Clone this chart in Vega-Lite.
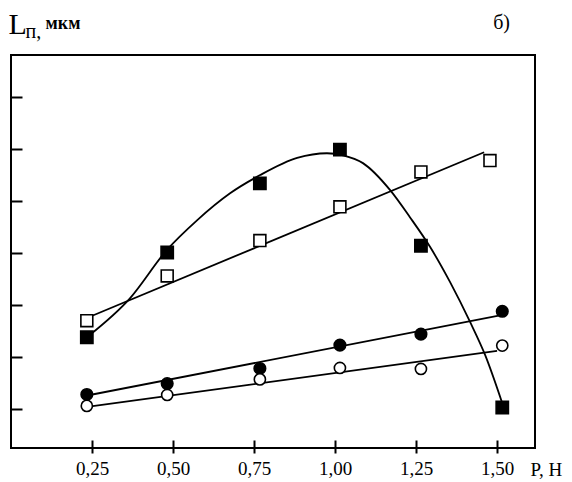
{
  "$schema": "https://vega.github.io/schema/vega-lite/v6.json",
  "width": 524,
  "height": 393,
  "autosize": {"type": "none"},
  "padding": {"left": 11, "top": 55, "right": 37, "bottom": 34},
  "background": "white",
  "title": {"text": "б)", "anchor": "end", "frame": "group", "font": "Liberation Serif", "fontSize": 20, "fontWeight": "normal", "color": "black", "dx": -25, "offset": 0, "dy": 40, "baseline": "alphabetic"},
  "config": {
    "view": {"stroke": "black", "strokeWidth": 2},
    "axis": {"labelFont": "Liberation Serif", "titleFont": "Liberation Serif", "grid": false, "domain": false, "tickColor": "black", "tickWidth": 2, "labelColor": "black", "titleColor": "black", "titleFontWeight": "normal"}
  },
  "data": {"values": [
    {"series": "fs", "kind": "pt", "P": 0.234, "L": 2.38},
    {"series": "fs", "kind": "pt", "P": 0.482, "L": 4.01},
    {"series": "fs", "kind": "pt", "P": 0.768, "L": 5.34},
    {"series": "fs", "kind": "pt", "P": 1.015, "L": 5.99},
    {"series": "fs", "kind": "pt", "P": 1.265, "L": 4.14},
    {"series": "fs", "kind": "pt", "P": 1.516, "L": 1.03},
    {"series": "os", "kind": "pt", "P": 0.234, "L": 2.70},
    {"series": "os", "kind": "pt", "P": 0.482, "L": 3.56},
    {"series": "os", "kind": "pt", "P": 0.768, "L": 4.24},
    {"series": "os", "kind": "pt", "P": 1.015, "L": 4.89},
    {"series": "os", "kind": "pt", "P": 1.265, "L": 5.56},
    {"series": "os", "kind": "pt", "P": 1.478, "L": 5.78},
    {"series": "fc", "kind": "pt", "P": 0.234, "L": 1.28},
    {"series": "fc", "kind": "pt", "P": 0.482, "L": 1.49},
    {"series": "fc", "kind": "pt", "P": 0.768, "L": 1.78},
    {"series": "fc", "kind": "pt", "P": 1.015, "L": 2.23},
    {"series": "fc", "kind": "pt", "P": 1.265, "L": 2.44},
    {"series": "fc", "kind": "pt", "P": 1.516, "L": 2.88},
    {"series": "oc", "kind": "pt", "P": 0.234, "L": 1.06},
    {"series": "oc", "kind": "pt", "P": 0.482, "L": 1.27},
    {"series": "oc", "kind": "pt", "P": 0.768, "L": 1.57},
    {"series": "oc", "kind": "pt", "P": 1.015, "L": 1.79},
    {"series": "oc", "kind": "pt", "P": 1.265, "L": 1.77},
    {"series": "oc", "kind": "pt", "P": 1.516, "L": 2.22},
    {"series": "os", "kind": "fit", "P": 0.234, "L": 2.75},
    {"series": "os", "kind": "fit", "P": 1.46, "L": 5.94},
    {"series": "fc", "kind": "fit", "P": 0.235, "L": 1.26},
    {"series": "fc", "kind": "fit", "P": 1.509, "L": 2.80},
    {"series": "oc", "kind": "fit", "P": 0.235, "L": 1.04},
    {"series": "oc", "kind": "fit", "P": 1.5, "L": 2.12},
    {"series": "fs", "kind": "fit", "P": 0.238, "L": 2.40},
    {"series": "fs", "kind": "fit", "P": 0.367, "L": 3.13},
    {"series": "fs", "kind": "fit", "P": 0.481, "L": 4.06},
    {"series": "fs", "kind": "fit", "P": 0.574, "L": 4.63},
    {"series": "fs", "kind": "fit", "P": 0.676, "L": 5.15},
    {"series": "fs", "kind": "fit", "P": 0.769, "L": 5.50},
    {"series": "fs", "kind": "fit", "P": 0.883, "L": 5.83},
    {"series": "fs", "kind": "fit", "P": 0.975, "L": 5.92},
    {"series": "fs", "kind": "fit", "P": 1.025, "L": 5.88},
    {"series": "fs", "kind": "fit", "P": 1.086, "L": 5.73},
    {"series": "fs", "kind": "fit", "P": 1.170, "L": 5.21},
    {"series": "fs", "kind": "fit", "P": 1.231, "L": 4.69},
    {"series": "fs", "kind": "fit", "P": 1.293, "L": 4.12},
    {"series": "fs", "kind": "fit", "P": 1.355, "L": 3.44},
    {"series": "fs", "kind": "fit", "P": 1.417, "L": 2.67},
    {"series": "fs", "kind": "fit", "P": 1.463, "L": 2.04},
    {"series": "fs", "kind": "fit", "P": 1.515, "L": 1.13}
  ]},
  "layer": [
    {
      "encoding": {
        "x": {"field": "P", "type": "quantitative", "scale": {"domain": [0, 1.617], "nice": false, "zero": false},
          "axis": {"orient": "bottom", "values": [0.25, 0.5, 0.75, 1, 1.25, 1.5], "labelExpr": "replace(format(datum.value, '.2f'), '.', ',')", "tickSize": 5, "labelPadding": 6, "labelFontSize": 19, "title": "P, H", "titleFontSize": 19, "titleX": 519, "titleY": 12, "titleAlign": "left", "titleBaseline": "top", "titleAngle": 0}},
        "y": {"field": "L", "type": "quantitative", "scale": {"domain": [0.25, 7.81], "nice": false, "zero": false},
          "axis": {"orient": "left", "ticks": false, "labels": false, "title": "L", "titleAngle": 0, "titleFontSize": 30, "titleX": -3, "titleY": -22, "titleAlign": "left", "titleBaseline": "alphabetic"}}
      },
      "layer": [
        {
          "transform": [{"filter": "datum.kind == 'fit'"}],
          "mark": {"type": "line", "interpolate": "monotone", "color": "black", "strokeWidth": 1.8},
          "encoding": {"detail": {"field": "series", "type": "nominal"}}
        },
        {
          "transform": [{"filter": "datum.kind == 'pt'"}],
          "mark": {"type": "point", "opacity": 1, "stroke": "black", "strokeWidth": 1.6},
          "encoding": {
            "shape": {"field": "series", "type": "nominal", "scale": {"domain": ["fs", "os", "fc", "oc"], "range": ["square", "square", "circle", "circle"]}, "legend": null},
            "fill": {"field": "series", "type": "nominal", "scale": {"domain": ["fs", "os", "fc", "oc"], "range": ["black", "white", "black", "white"]}, "legend": null},
            "size": {"field": "series", "type": "nominal", "scale": {"domain": ["fs", "os", "fc", "oc"], "range": [150, 125, 120, 115]}, "legend": null}
          }
        }
      ]
    },
    {
      "transform": [{"filter": "datum.kind == 'pt'"}],
      "mark": {"type": "point", "opacity": 0},
      "encoding": {
        "x": {"field": "P", "type": "quantitative", "scale": {"domain": [0, 1.617], "nice": false, "zero": false},
          "axis": {"orient": "top", "offset": -393, "values": [0.25, 0.5, 0.75, 1, 1.25, 1.5], "tickSize": 8, "labels": false, "title": "мкм", "titleFontSize": 18, "titleFontWeight": "bold", "titleX": 34, "titleY": -420, "titleAlign": "left", "titleBaseline": "alphabetic", "titleAngle": 0}},
        "y": {"field": "L", "type": "quantitative", "scale": {"domain": [0.25, 7.81], "nice": false, "zero": false},
          "axis": {"orient": "right", "offset": -524, "values": [1, 2, 3, 4, 5, 6, 7], "tickSize": 11, "labels": false, "title": "п,", "titleFontSize": 20, "titleX": 14, "titleY": -18, "titleAlign": "left", "titleBaseline": "alphabetic", "titleAngle": 0}}
      }
    }
  ],
  "resolve": {"axis": {"x": "independent", "y": "independent"}}
}
